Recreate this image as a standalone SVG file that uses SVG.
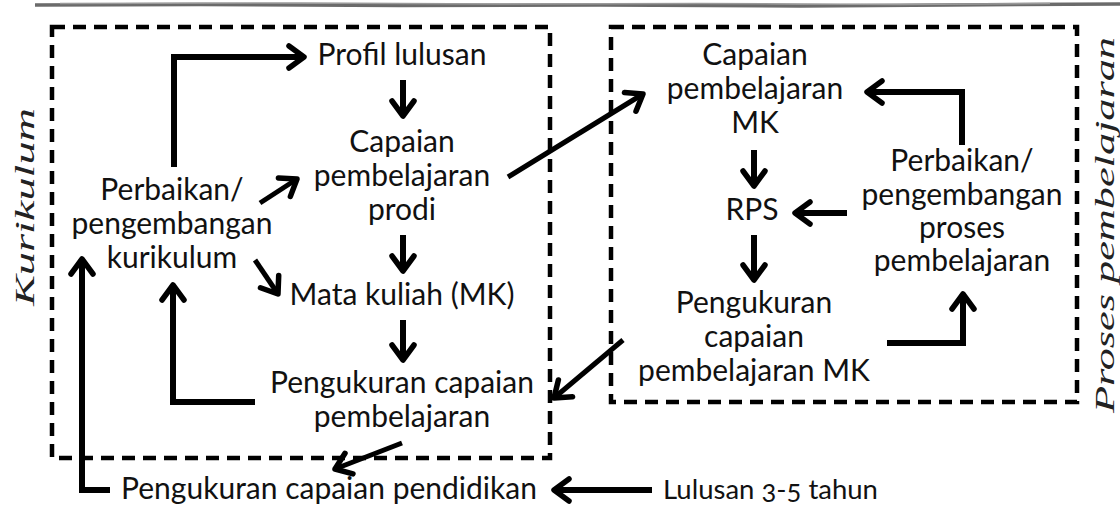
<svg xmlns="http://www.w3.org/2000/svg" width="1120" height="508" viewBox="0 0 1120 508">
<style>
  .t{font-family:Lato,"Liberation Sans",sans-serif;font-size:30px;fill:#111;text-anchor:middle}
  .side{font-family:"Liberation Serif",serif;font-style:italic;font-size:28px;fill:#222;text-anchor:middle}
  .box{fill:none;stroke:#000;stroke-width:4.5;stroke-dasharray:13 8}
  .c{fill:none;stroke:#000;stroke-width:6;stroke-linejoin:miter;marker-end:url(#ah)}
  .d{fill:none;stroke:#000;stroke-width:5;marker-end:url(#ah)}
</style>
<defs>
  <marker id="ah" markerUnits="userSpaceOnUse" viewBox="-22 -16 28 32" markerWidth="28" markerHeight="32" refX="0" refY="0" orient="auto">
    <path d="M-15,-11 L0,0 L-15,11" fill="none" stroke="#000" stroke-width="5.5" stroke-linejoin="round" stroke-linecap="round"/>
  </marker>
</defs>
<rect width="1120" height="508" fill="#fff"/>
<g id="topline">
  <path d="M35,5 L200,4.5 L400,5.5 L600,5 L800,6 L950,5 L1120,4" fill="none" stroke="#6b6b6b" stroke-width="3.5"/>
  <path d="M60,3.5 L300,3 L500,4 L700,3.5 L900,4.5 L1050,3.5" fill="none" stroke="#9a9a9a" stroke-width="1.5"/>
</g>
<g id="boxes">
  <rect id="box-kurikulum" class="box" x="52" y="27" width="498" height="431"/>
  <rect id="box-proses" class="box" x="611" y="27" width="466" height="375"/>
</g>
<g id="side-labels">
  <text id="label-kurikulum" class="side" transform="translate(34,207) rotate(-90)" textLength="198" lengthAdjust="spacingAndGlyphs">Kurikulum</text>
  <text id="label-proses" class="side" transform="translate(1114,225) rotate(-90)" textLength="376" lengthAdjust="spacingAndGlyphs">Proses pembelajaran</text>
</g>
<g id="node-profil"><text class="t" x="402" y="65">Profil lulusan</text></g>
<g id="node-cp-prodi"><text class="t" x="402" y="152">Capaian</text><text class="t" x="402" y="186">pembelajaran</text><text class="t" x="402" y="220">prodi</text></g>
<g id="node-perbaikan-kurikulum"><text class="t" x="172" y="200">Perbaikan/</text><text class="t" x="172" y="234">pengembangan</text><text class="t" x="172" y="268">kurikulum</text></g>
<g id="node-mk"><text class="t" x="402" y="305">Mata kuliah (MK)</text></g>
<g id="node-pengukuran-cp"><text class="t" x="402" y="393">Pengukuran capaian</text><text class="t" x="402" y="427">pembelajaran</text></g>
<g id="node-pengukuran-pendidikan"><text class="t" x="329" y="499">Pengukuran capaian pendidikan</text></g>
<g id="node-lulusan"><text class="t" x="663" y="499" style="text-anchor:start;font-size:27.5px;font-variant-numeric:oldstyle-nums">Lulusan 3-5 tahun</text></g>
<g id="node-cp-mk"><text class="t" x="755" y="65">Capaian</text><text class="t" x="755" y="99">pembelajaran</text><text class="t" x="755" y="133">MK</text></g>
<g id="node-rps"><text class="t" x="752" y="220">RPS</text></g>
<g id="node-pengukuran-mk"><text class="t" x="754" y="313">Pengukuran</text><text class="t" x="754" y="347">capaian</text><text class="t" x="754" y="381">pembelajaran MK</text></g>
<g id="node-perbaikan-proses"><text class="t" x="962" y="171">Perbaikan/</text><text class="t" x="962" y="205">pengembangan</text><text class="t" x="962" y="238">proses</text><text class="t" x="962" y="271">pembelajaran</text></g>
<g id="connectors">
  <path class="c" d="M174,167 V57 H304"/>
  <path class="c" d="M403,80 V116"/>
  <path class="c" d="M403,235 V271"/>
  <path class="c" d="M403,320 V360"/>
  <path class="d" d="M260,203 L297,179"/>
  <path class="d" d="M255,260 L278,294"/>
  <path class="c" d="M255,402 H173 V285"/>
  <path class="d" d="M402,443 L335,469"/>
  <path class="c" d="M110,490 H82 V259"/>
  <path class="c" d="M652,490 H554"/>
  <path class="d" d="M508,177 L643,94"/>
  <path class="d" d="M623,340 L554,398"/>
  <path class="c" d="M754,150 V186"/>
  <path class="c" d="M754,235 V280"/>
  <path class="c" d="M847,213 H795"/>
  <path class="c" d="M962,145 V92 H867"/>
  <path class="c" d="M887,343 H963 V294"/>
</g>
</svg>
